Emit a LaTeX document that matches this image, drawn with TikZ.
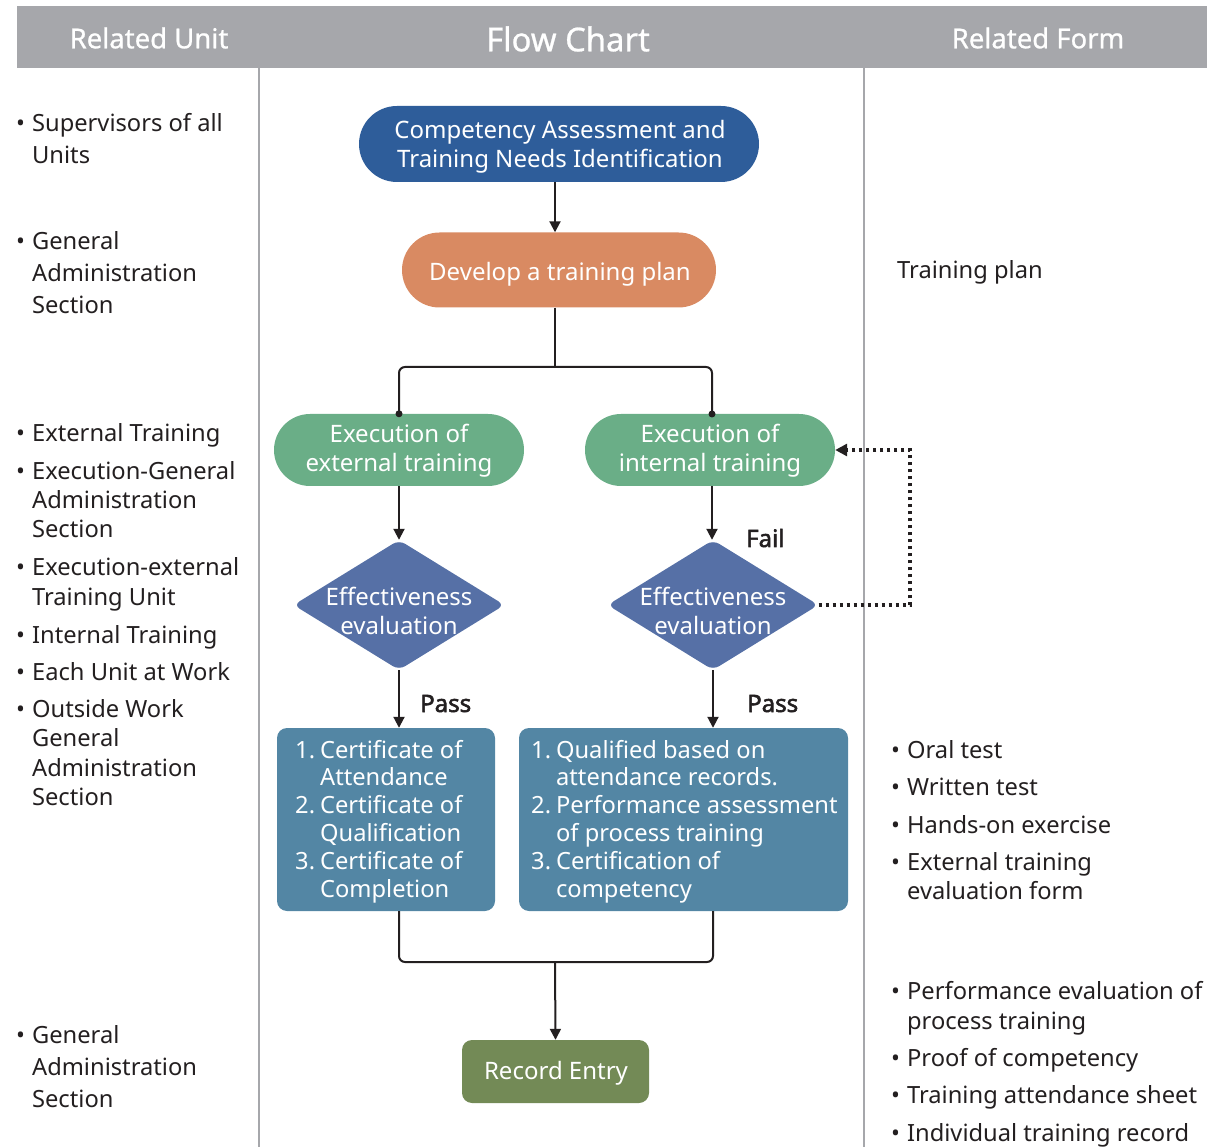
\documentclass[tikz,border=0pt]{standalone}
\usepackage{fontspec}
\setmainfont{Noto Sans}
\newfontfamily\lblfont{Noto Sans}[FakeBold=2.2]
\newfontfamily\hdrfont{Noto Sans}[FakeBold=0.8]
\usetikzlibrary{shapes.geometric,shapes.misc,arrows.meta}
\definecolor{hdr}{HTML}{A6A7AB}
\definecolor{cblue}{HTML}{2E5D9A}
\definecolor{corange}{HTML}{D98A62}
\definecolor{cgreen}{HTML}{6AAE87}
\definecolor{cdia}{HTML}{5670A6}
\definecolor{cbox}{HTML}{5386A4}
\definecolor{crec}{HTML}{738A56}
\definecolor{ink}{HTML}{231F20}
\newcommand\sidetxt[2]{{\fontsize{23.7}{#1}\selectfont\begin{tabular}[t]{@{}l@{\hspace{7pt}}l@{}}#2\end{tabular}}}
\newcommand\boxtxt[1]{{\fontsize{23.7}{27.8}\selectfont\begin{tabular}[t]{@{}l@{\hspace{5pt}}l@{}}#1\end{tabular}}}
\tikzset{
  pill/.style={rounded rectangle, inner sep=0pt},
  intext/.style={text=white, align=center, inner sep=0pt, font=\fontsize{24}{29}\selectfont},
  dia/.style={diamond, inner sep=0pt, fill=cdia, rounded corners=7pt},
  sq/.style={rectangle, inner sep=0pt, rounded corners=10pt},
  conn/.style={draw=ink, line width=2pt},
  arr/.style={conn, -{Triangle[length=11pt,width=11pt]}},
  dotline/.style={draw=ink, line width=3.5pt, dash pattern=on 3.5pt off 3.5pt, -{Triangle[length=12pt,width=12pt]}},
  side/.style={anchor=base west, inner sep=0pt, text=ink},
  lbl/.style={anchor=base west, inner sep=0pt, text=ink, font=\fontsize{24}{28}\selectfont\lblfont},
  hdrtxt/.style={text=white, inner sep=0pt}
}
\begin{document}
\begin{tikzpicture}[x=1pt,y=-1pt]
\useasboundingbox (0,0) rectangle (1219,1147);
% header
\fill[hdr] (17,6) rectangle (1207,68);
\node[hdrtxt, font=\fontsize{27.5}{30}\selectfont\hdrfont] (h1) at (149,38) {Related Unit};
\node[hdrtxt, font=\fontsize{32.8}{36}\selectfont\hdrfont] (h2) at (568,39) {Flow Chart};
\node[hdrtxt, font=\fontsize{27.5}{30}\selectfont\hdrfont] (h3) at (1038,38) {Related Form};
\draw[hdr, line width=2pt] (259,68) -- (259,1147);
\draw[hdr, line width=2pt] (864,68) -- (864,1147);

% flow nodes
\node[pill, fill=cblue, minimum width=400pt, minimum height=76pt] (top) at (559,144) {};
\node[intext] (topt) at (560,147) {Competency Assessment and\\Training Needs Identification};
\node[pill, fill=corange, minimum width=314pt, minimum height=75pt] (plan) at (559,270) {};
\node[intext] (plant) at (560,274) {Develop a training plan};
\node[pill, fill=cgreen, minimum width=250pt, minimum height=72pt] (ext) at (399,450) {};
\node[intext] (extt) at (399,451) {Execution of\\external training};
\node[pill, fill=cgreen, minimum width=250pt, minimum height=72pt] (int) at (710,450) {};
\node[intext] (intt) at (710,451) {Execution of\\internal training};
\node[dia, minimum width=211pt, minimum height=130pt] (d1) at (399,605) {};
\node[intext] (d1t) at (399,611) {Effectiveness\\evaluation};
\node[dia, minimum width=211pt, minimum height=130pt] (d2) at (713,605) {};
\node[intext] (d2t) at (713,611) {Effectiveness\\evaluation};
\node[sq, fill=cbox, minimum width=218pt, minimum height=183pt] (b1) at (386,819.5) {};
\node[anchor=base west, inner sep=0pt, text=white] (b1t) at (295,758) {\boxtxt{1. & Certificate of\\ & Attendance\\ 2. & Certificate of\\ & Qualification\\ 3. & Certificate of\\ & Completion}};
\node[sq, fill=cbox, minimum width=329pt, minimum height=183pt] (b2) at (683.5,819.5) {};
\node[anchor=base west, inner sep=0pt, text=white] (b2t) at (531,758) {\boxtxt{1. & Qualified based on\\ & attendance records.\\ 2. & Performance assessment\\ & of process training\\ 3. & Certification of\\ & competency}};
\node[sq, fill=crec, minimum width=187pt, minimum height=63pt] (rec) at (555.5,1071.5) {};
\node[intext] (rect) at (556,1073) {Record Entry};

% connectors
\draw[arr] (top.south -| 555,0) -- (plan.north -| 555,0);
\coordinate (split) at (555,367);
\draw[conn] (plan.south -| 555,0) -- (split);
\draw[conn, rounded corners=6pt] (ext.north) |- (split) -| (712,414);
\fill[ink] (ext.north) circle (3.5pt);
\fill[ink] (712,414) circle (3.5pt);
\draw[arr] (ext.south) -- (d1.north);
\draw[arr] (ext.south -| 712,0) -- (d2.north -| 712,0);
\draw[arr] (d1.south) -- (d1.south |- b1.north);
\draw[arr] (d2.south) -- (d2.south |- b2.north);
\coordinate (merge) at (555,962);
\draw[conn, rounded corners=6pt] (d1.south |- b1.south) |- (merge) -| (d2.south |- b2.south);
\draw[arr] (merge) -- (rec.north);
\coordinate (fbA) at (910,605);
\draw[dotline] (d2.east) -- (fbA) |- (int.east);
\node[lbl] (fail) at (746,547) {Fail};
\node[lbl] (pass1) at (420,712) {Pass};
\node[lbl] (pass2) at (747,712) {Pass};

% left column
\node[side] (u1) at (16,132) {\sidetxt{32}{• & Supervisors of all\\ & Units}};
\node[side] (u2) at (16,250) {\sidetxt{32}{• & General\\ & Administration\\ & Section}};
\node[side] (u3) at (16,442) {\sidetxt{29}{• & External Training}};
\node[side] (u4) at (16,480) {\sidetxt{29}{• & Execution-General\\ & Administration\\ & Section}};
\node[side] (u5) at (16,576) {\sidetxt{29}{• & Execution-external\\ & Training Unit}};
\node[side] (u6) at (16,643) {\sidetxt{29}{• & Internal Training}};
\node[side] (u7) at (16,680) {\sidetxt{29}{• & Each Unit at Work}};
\node[side] (u8) at (16,717) {\sidetxt{29.5}{• & Outside Work\\ & General\\ & Administration\\ & Section}};
\node[side] (u9) at (16,1043) {\sidetxt{32}{• & General\\ & Administration\\ & Section}};

% right column
\node[side, font=\fontsize{23.7}{28}\selectfont] (f1) at (897,279) {Training plan};
\node[side] (f2) at (891,758) {\sidetxt{29}{• & Oral test}};
\node[side] (f3) at (891,795) {\sidetxt{29}{• & Written test}};
\node[side] (f4) at (891,833) {\sidetxt{29}{• & Hands-on exercise}};
\node[side] (f5) at (891,870) {\sidetxt{29}{• & External training\\ & evaluation form}};
\node[side] (f6) at (891,999) {\sidetxt{30}{• & Performance evaluation of\\ & process training}};
\node[side] (f7) at (891,1066) {\sidetxt{29}{• & Proof of competency}};
\node[side] (f8) at (891,1103) {\sidetxt{29}{• & Training attendance sheet}};
\node[side] (f9) at (891,1141) {\sidetxt{29}{• & Individual training record}};
\end{tikzpicture}
\end{document}
